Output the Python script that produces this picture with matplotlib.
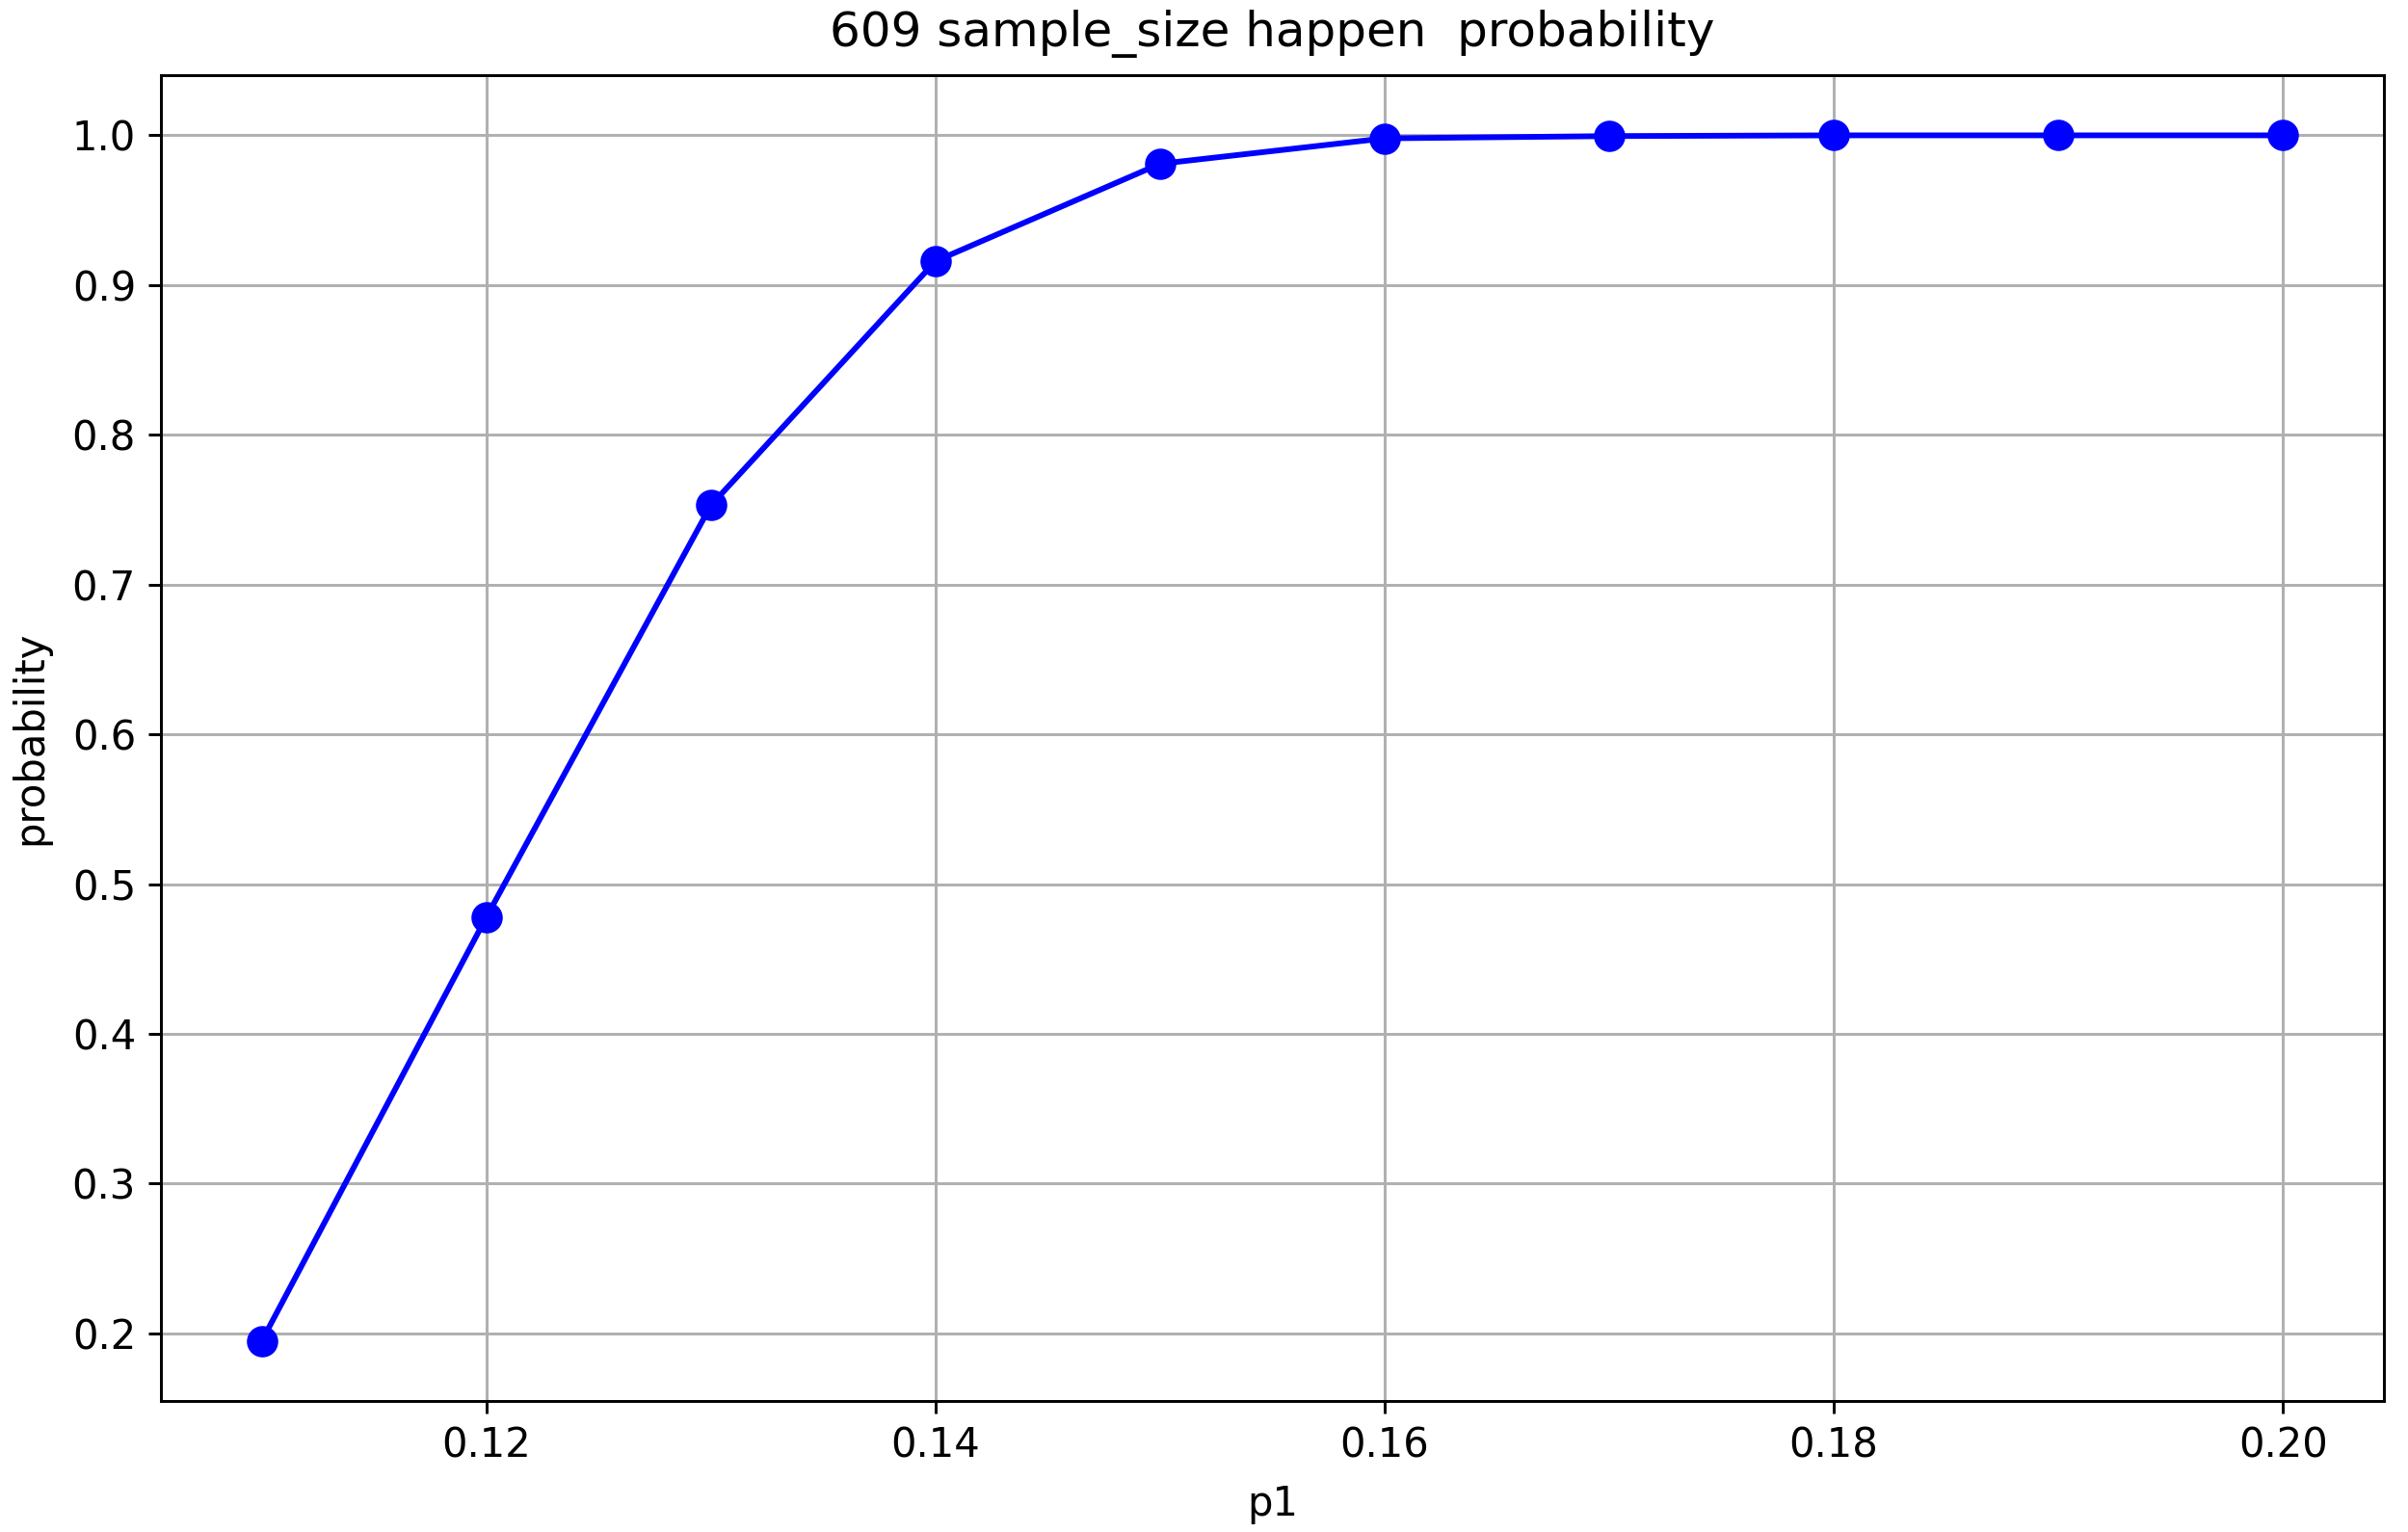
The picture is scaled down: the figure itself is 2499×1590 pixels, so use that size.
import numpy as np
from matplotlib import pyplot as plt

# p1 values and the probability
p1 = [0.11, 0.12, 0.13, 0.14, 0.15, 0.16, 0.17, 0.18, 0.19, 0.20]
probability = [0.195, 0.478, 0.753, 0.916, 0.981, 0.998, 0.9995, 1.0, 1.0, 1.0]

sample_size = 609

if __name__ == '__main__':
    plt.rcParams['font.size'] = 11.3

    dpi = 266
    fig = plt.figure(figsize=(2499 / dpi, 1590 / dpi), dpi=dpi)
    ax = fig.add_axes([0.0668, 0.0855, 0.9232, 0.8655])

    ax.plot(p1, probability, 'bo-', markersize=7.8, linewidth=1.6)
    ax.grid(True)
    ax.set_title('%d sample_size happen  probability' % sample_size, pad=8)
    ax.set_xlabel('p1', labelpad=5)
    ax.set_ylabel('probability', labelpad=6)

    fig.savefig('out.png', dpi=dpi)
